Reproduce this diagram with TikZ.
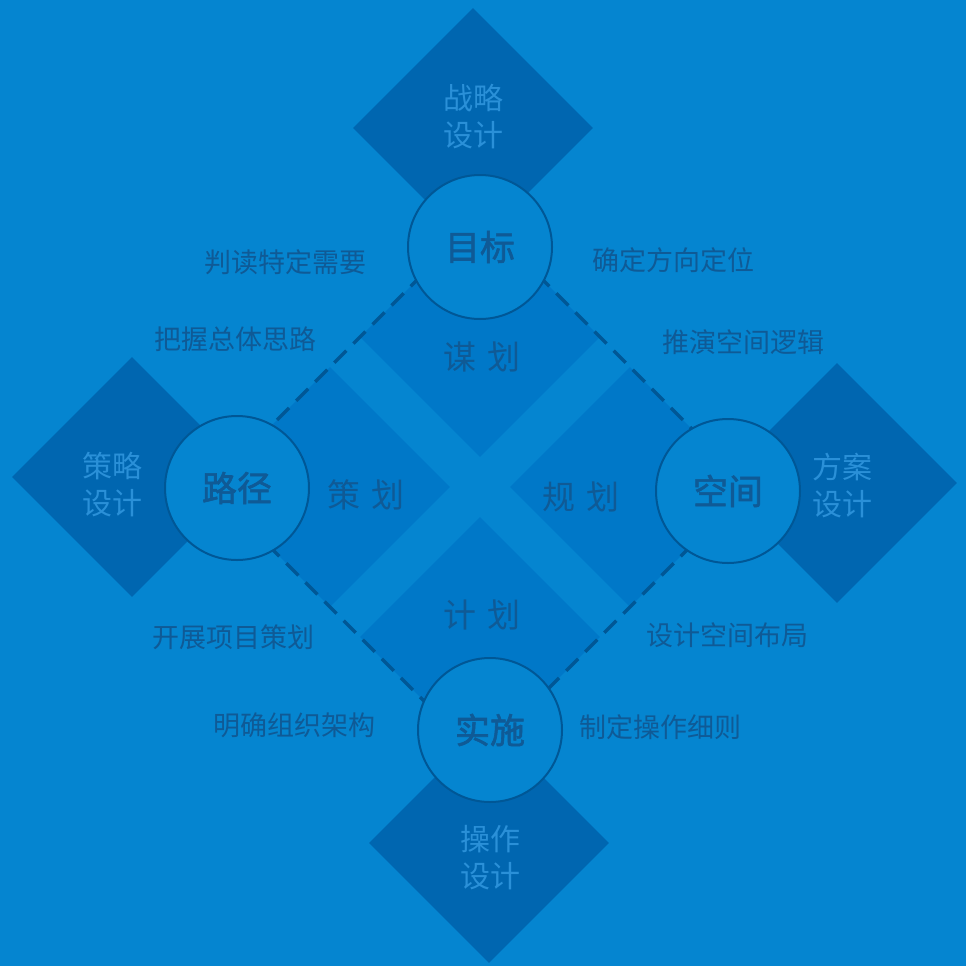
\documentclass[tikz,border=0pt]{standalone}
\usepackage{fontspec}
\newfontfamily\cjk{Noto Sans CJK SC}
\newfontfamily\cjkgrueso{Noto Sans CJK SC}[FakeBold=1.6]
\usepackage{tikz}
\usetikzlibrary{shapes.geometric}
\definecolor{fondo}{HTML}{0585D0}
\definecolor{medio}{HTML}{0078C8}
\definecolor{oscuro}{HTML}{0066B0}
\definecolor{borde}{HTML}{005796}
\definecolor{letra}{HTML}{0F5A96}
\definecolor{letraclara}{HTML}{2A90D8}
\tikzset{
  fasebox/.style={diamond,fill=medio,minimum width=240pt,minimum height=240pt,inner sep=0pt},
  disenobox/.style={diamond,fill=oscuro,minimum width=240pt,minimum height=240pt,inner sep=0pt},
  nucleo/.style={circle,draw=borde,line width=2pt,fill=fondo,minimum size=144pt,inner sep=0pt,
    text=letra,font=\cjkgrueso\fontsize{35}{40}\selectfont},
  fasetext/.style={text=letra,font=\cjk\fontsize{33}{38}\selectfont},
  disenotext/.style={text=letraclara,align=center,font=\cjk\fontsize{30}{37}\selectfont},
  nota/.style={text=letra,font=\cjk\fontsize{27}{30}\selectfont},
  borde punteado/.style={draw=borde,line width=3.5pt,dash pattern=on 17pt off 10pt}
}
\begin{document}
\begin{tikzpicture}[x=1pt,y=-1pt]
\fill[fondo] (0,0) rectangle (966,966);
\useasboundingbox (0,0) rectangle (966,966);
%cuatro fases
\path (480,337) node(mou) [fasebox]{};
\path (330,487) node(ce) [fasebox]{};
\path (630,487) node(gui) [fasebox]{};
\path (480,637) node(ji) [fasebox]{};
%disenos
\path (473,128) node(zl) [disenobox]{};
\path (132,477) node(cl) [disenobox]{};
\path (837,483) node(fa) [disenobox]{};
\path (489,843) node(cz) [disenobox]{};
\coordinate (vt) at (480,217);
\coordinate (vl) at (210,487);
\coordinate (vr) at (750,487);
\coordinate (vb) at (480,757);
\draw[borde punteado] (vt) -- (vl);
\draw[borde punteado] (vt) -- (vr);
\draw[borde punteado] (vl) -- (vb);
\draw[borde punteado] (vr) -- (vb);
\path (480,247) node(mubiao) [nucleo]{目标};
\path (237,488) node(lujing) [nucleo]{路径};
\path (728,491) node(kongjian) [nucleo]{空间};
\path (490,730) node(shishi) [nucleo]{实施};
\path (482,357) node(tmou) [fasetext]{谋\hspace{12pt}划};
\path (366,495) node(tce) [fasetext]{策\hspace{12pt}划};
\path (581,497) node(tgui) [fasetext]{规\hspace{12pt}划};
\path (482,615) node(tji) [fasetext]{计\hspace{12pt}划};
\path (473,117) node(tzl) [disenotext]{战略\\设计};
\path (112,485) node(tcl) [disenotext]{策略\\设计};
\path (842,486) node(tfa) [disenotext]{方案\\设计};
\path (490,858) node(tcz) [disenotext]{操作\\设计};
\path (285,262) node(n1) [nota]{判读特定需要};
\path (673,260) node(n2) [nota]{确定方向定位};
\path (235,339) node(n3) [nota]{把握总体思路};
\path (743,342) node(n4) [nota]{推演空间逻辑};
\path (233,637) node(n5) [nota]{开展项目策划};
\path (727,635) node(n6) [nota]{设计空间布局};
\path (294,725) node(n7) [nota]{明确组织架构};
\path (660,727) node(n8) [nota]{制定操作细则};
\end{tikzpicture}
\end{document}
